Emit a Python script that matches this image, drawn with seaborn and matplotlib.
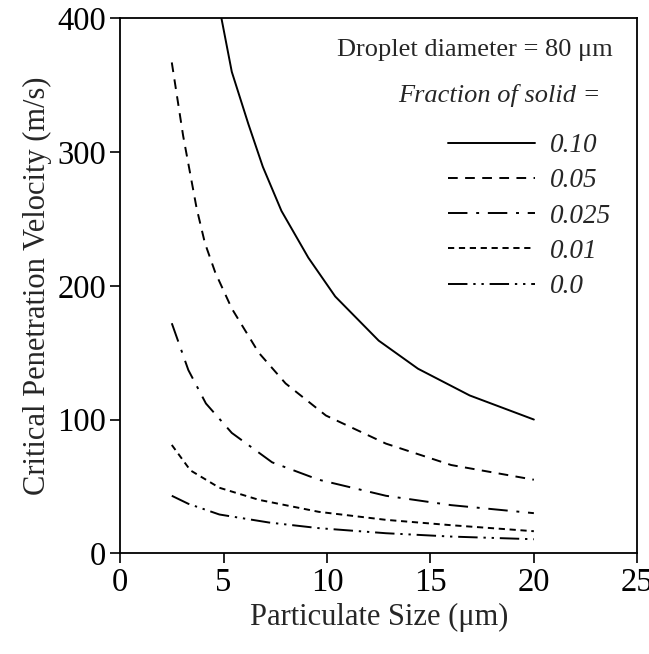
import pandas as pd
import seaborn as sns
import matplotlib.pyplot as plt
from matplotlib.lines import Line2D

# values
size_010 = [4.9, 5.4, 6.2, 6.9, 7.8, 9.1, 10.4, 12.5, 14.4, 16.9, 20.0]
vel_010 = [400, 360, 321, 289, 256, 221, 192, 159, 138, 118, 100]

size_005 = [2.5, 2.75, 3.05, 3.4, 3.7, 4.1, 4.6, 5.4, 6.7, 8.0, 9.95,
            12.85, 16.0, 20.0]
vel_005 = [367, 342, 312, 283, 258, 232, 210, 183, 150, 127, 103,
           82, 66, 55]

size_0025 = [2.5, 3.3, 4.15, 5.4, 7.35, 9.6, 12.85, 16.0, 20.0]
vel_0025 = [172, 137, 112, 90, 68, 55, 43, 36, 30]

size_001 = [2.5, 3.4, 4.8, 6.7, 9.6, 12.85, 16.0, 20.0]
vel_001 = [81, 62, 49, 40, 31, 25, 21, 16.5]

size_000 = [2.5, 3.3, 4.8, 7.2, 9.6, 12.85, 16.0, 20.0]
vel_000 = [43, 37, 29, 23, 18.8, 15, 12.5, 10.5]

fractions = ['0.10', '0.05', '0.025', '0.01', '0.0']
dash_styles = {
    '0.10': '',
    '0.05': (5, 3.8),
    '0.025': (10, 4.5, 1.5, 4.5),
    '0.01': (3.2, 2.4),
    '0.0': (10, 3, 1.2, 3, 1.2, 3),
}


def build_data():
    """Collect the five curves into one long dataframe."""
    parts = []
    sizes = [size_010, size_005, size_0025, size_001, size_000]
    vels = [vel_010, vel_005, vel_0025, vel_001, vel_000]
    for frac, xs, ys in zip(fractions, sizes, vels):
        parts.append(pd.DataFrame({'Size': xs, 'Velocity': ys,
                                   'Fraction': frac}))
    return pd.concat(parts, ignore_index=True)


def main():
    sns.set_style('ticks')
    plt.rcParams['font.family'] = ['Liberation Serif', 'DejaVu Serif']

    data = build_data()
    fig = plt.figure(figsize=(6.49, 6.54), dpi=100)
    ax = fig.add_axes([0.185, 0.154, 0.797, 0.818])

    sns.lineplot(data=data, x='Size', y='Velocity', style='Fraction',
                 style_order=fractions, dashes=dash_styles, color='black',
                 linewidth=1.4, legend=False, ax=ax, sort=False)

    ax.set_xlim(0, 25)
    ax.set_ylim(0, 400)
    ax.set_xticks([0, 5, 10, 15, 20, 25])
    ax.set_yticks([0, 100, 200, 300, 400])
    ax.tick_params(labelsize=23.5, length=7, width=1.2, direction='out',
                   colors='black', pad=3)
    for side in ['top', 'right', 'left', 'bottom']:
        ax.spines[side].set_visible(True)
        ax.spines[side].set_linewidth(1.3)
        ax.spines[side].set_color('black')

    ax.set_xlabel('Particulate Size (\u03bcm)', fontsize=22, labelpad=4)
    ax.set_ylabel('Critical Penetration Velocity (m/s)', fontsize=22,
                  labelpad=4)

    ax.text(0.952, 0.940, 'Droplet diameter = 80 \u03bcm', fontsize=19,
            ha='right', va='center', transform=ax.transAxes)
    ax.text(0.928, 0.856, 'Fraction of solid =', fontsize=19,
            style='italic', ha='right', va='center', transform=ax.transAxes)

    handles = []
    for frac in fractions:
        dash = dash_styles[frac]
        line = Line2D([], [], color='black', linewidth=1.4)
        if dash:
            line.set_dashes(dash)
        handles.append(line)
    leg = fig.legend(handles, fractions, loc='upper left',
                     bbox_to_anchor=(448 / 649, 1 - 133 / 654),
                     frameon=False, borderpad=0, borderaxespad=0,
                     handlelength=3.2, handletextpad=0.55, labelspacing=0.38,
                     prop={'size': 19.5, 'style': 'italic'})
    leg.set_zorder(5)

    plt.savefig('out.png', dpi=100)


if __name__ == '__main__':
    main()
